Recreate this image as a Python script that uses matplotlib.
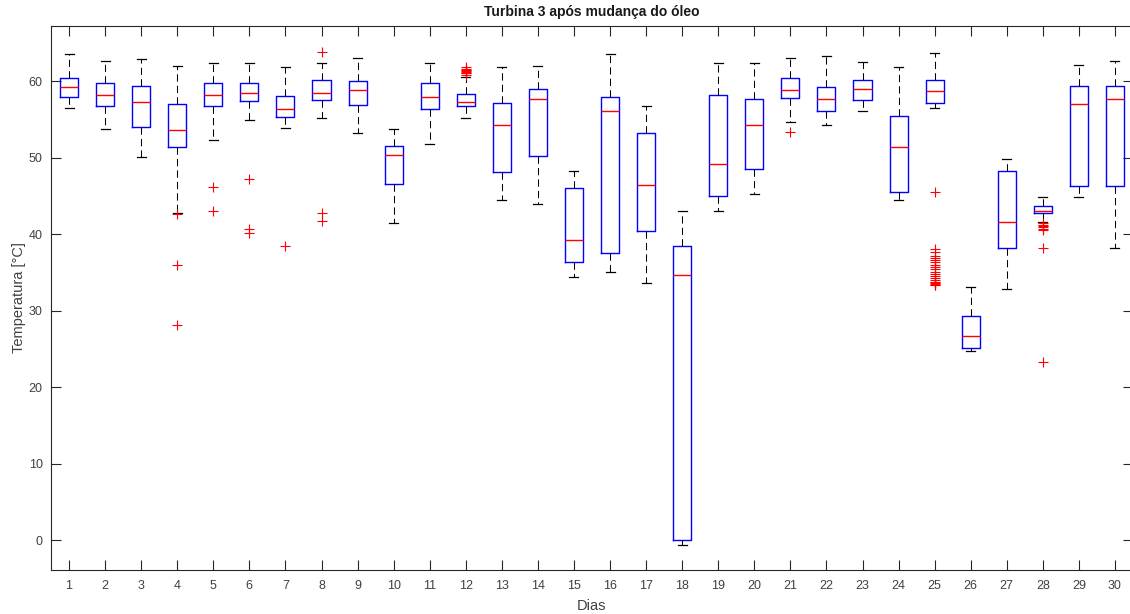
import matplotlib
matplotlib.use("Agg")
import matplotlib.pyplot as plt

plt.rcParams['font.family'] = ['Liberation Sans', 'DejaVu Sans']

dias = list(range(1, 31))
whislo = [56.5, 53.7, 50.1, 42.8, 52.3, 54.85, 53.9, 55.2, 53.25, 41.5,
          51.8, 55.2, 44.4, 43.9, 34.4, 35.1, 33.6, -0.65, 43.0, 45.3,
          54.6, 54.2, 56.1, 44.4, 56.5, 24.75, 32.8, 41.6, 44.8, 38.25]
q1 = [57.95, 56.7, 54.0, 51.4, 56.7, 57.4, 55.3, 57.55, 56.9, 46.6,
      56.3, 56.8, 48.15, 50.2, 36.4, 37.5, 40.4, 0.0, 45.0, 48.45,
      57.8, 56.1, 57.55, 45.5, 57.2, 25.15, 38.25, 42.8, 46.3, 46.3]
med = [59.2, 58.2, 57.3, 53.55, 58.2, 58.5, 56.3, 58.5, 58.9, 50.3,
       57.95, 57.3, 54.2, 57.7, 39.2, 56.1, 46.45, 34.7, 49.1, 54.2,
       58.9, 57.7, 59.0, 51.4, 58.65, 26.7, 41.6, 43.05, 57.0, 57.7]
q3 = [60.35, 59.8, 59.3, 57.0, 59.8, 59.8, 58.1, 60.1, 59.95, 51.55,
      59.8, 58.35, 57.2, 59.0, 46.0, 57.95, 53.25, 38.5, 58.2, 57.7,
      60.35, 59.2, 60.2, 55.4, 60.2, 29.3, 48.3, 43.7, 59.4, 59.3]
whishi = [63.5, 62.6, 62.9, 62.0, 62.3, 62.4, 61.8, 62.3, 63.05, 53.7,
          62.4, 60.5, 61.8, 61.95, 48.2, 63.5, 56.8, 43.0, 62.4, 62.4,
          63.0, 63.3, 62.5, 61.8, 63.7, 33.05, 49.85, 44.8, 62.1, 62.6]
outliers = [
    [], [], [], [42.6, 35.9, 28.1], [46.1, 43.0], [47.2, 40.65, 40.1],
    [38.4], [63.8, 42.8, 41.75], [], [], [],
    [60.8, 61.0, 61.1, 61.2, 61.3, 61.4, 61.5, 61.6, 61.8],
    [], [], [], [], [], [], [], [],
    [53.3], [], [], [],
    [45.5, 38.0, 37.6, 37.2, 36.9, 36.6, 36.3, 36.0, 35.7, 35.4, 35.1,
     34.8, 34.5, 34.2, 34.0, 33.8, 33.7, 33.6, 33.5, 33.4, 33.3],
    [], [],
    [41.4, 41.2, 41.0, 40.9, 40.7, 40.5, 38.25, 23.3],
    [], [],
]

yticks = [0, 10, 20, 30, 40, 50, 60]

stats = []
for i in range(len(dias)):
    stats.append(dict(med=med[i], q1=q1[i], q3=q3[i], whislo=whislo[i],
                      whishi=whishi[i], fliers=outliers[i]))

fig = plt.figure(figsize=(11.3, 6.14), dpi=100)
ax = fig.add_axes([51 / 1130, 44 / 614, 1082 / 1130, 544 / 614])

axc = '#262626'
ax.bxp(stats, positions=dias, widths=0.5, showfliers=True,
       boxprops=dict(color='#0000ff', linewidth=1.0),
       medianprops=dict(color='#ff0000', linewidth=1.0),
       whiskerprops=dict(color='black', linewidth=0.75, linestyle=(0, (7, 4))),
       capprops=dict(color='black', linewidth=0.9),
       flierprops=dict(marker='+', markeredgecolor='#ff0000', markersize=7,
                       markeredgewidth=0.8, linestyle='none'),
       capwidths=0.25)

ax.set_xlim(0.5, 30.5)
ax.set_ylim(-3.9, 67.2)
ax.set_xticks(dias)
ax.set_xticklabels([str(d) for d in dias])
ax.set_yticks(yticks)
ax.set_yticklabels([str(v) for v in yticks])
ax.tick_params(direction='in', length=7, width=0.8, colors=axc,
               labelcolor='#404040', labelsize=9, top=True, right=True)
ax.tick_params(axis='x', pad=7)
ax.tick_params(axis='y', pad=6)
for s in ax.spines.values():
    s.set_color(axc)
    s.set_linewidth(0.8)

ax.set_title('Turbina 3 após mudança do óleo', fontsize=10, fontweight='bold',
             color='#1a1a1a', pad=7)
ax.set_xlabel('Dias', fontsize=10.5, color='#404040', labelpad=5)
ax.set_ylabel('Temperatura [°C]', fontsize=10.5, color='#404040', labelpad=2)

fig.savefig('out.png', dpi=100)
